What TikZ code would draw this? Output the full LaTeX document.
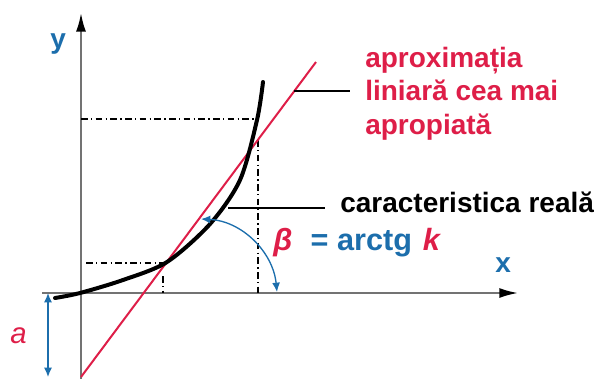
\documentclass[tikz,border=0pt]{standalone}
\usepackage{fontspec}
\setmainfont{Liberation Sans}
\usetikzlibrary{arrows.meta}
\definecolor{labred}{RGB}{222,30,72}
\definecolor{labblue}{RGB}{28,110,172}
\definecolor{axisgray}{RGB}{115,115,115}
\tikzset{
  axisline/.style={axisgray,line width=1.5pt,-{Latex[color=black,length=14pt,width=7.5pt]}},
  helpline/.style={black,line width=1pt,dash pattern={on 5pt off 2.5pt on 1pt off 2.5pt}},
  leader/.style={black,line width=1pt},
  bluearrow/.style={labblue,line width=1pt,{Latex[length=7pt,width=6pt]}-{Latex[length=7pt,width=6pt]}},
  lbl/.style={font=\fontsize{21}{25}\selectfont\bfseries,inner sep=0pt,anchor=base west}
}
\begin{document}
\begin{tikzpicture}[x=0.75pt,y=-0.75pt]
\useasboundingbox (0,0) rectangle (596,379);
% axes
\draw[axisline] (81,379) -- (81,13);
\draw[axisline] (42,293) -- (518,293);
\node[lbl,text=labblue] (ylab) at (50,48) {y};
\node[lbl,text=labblue] (xlab) at (495,272) {x};
% offset a
\draw[bluearrow] (48,293) -- (48,377);
\node[lbl,text=labred,font=\fontsize{22}{26}\selectfont\itshape] (alab) at (10,343) {a};
% help lines
\draw[helpline] (81,119) -- (256,119);
\draw[helpline] (258,140) -- (258,293);
\draw[helpline] (86,263) -- (164,263);
\draw[helpline] (163,276) -- (163,293);
% linear approximation
\draw[labred,line width=1.5pt] (81,377) -- (316,62);
% real characteristic
\draw[black,line width=3pt,line cap=round] plot[smooth,tension=0.5] coordinates
  {(55,298) (80,293) (123,280) (167,262) (210,224) (240,180) (257,120) (263,82)};
% angle beta
\draw[bluearrow] (201,219) .. controls (242,221) and (273,252) .. (277,292);
% labels and leaders
\coordinate (lin) at (294,91);
\coordinate (car) at (228,208);
\node[lbl,text=labred,align=left,anchor=north west] (aprox) at (365,47)
  {aproximația\\liniară cea mai\\apropiată};
\node[lbl] (real) at (340,212) {caracteristica reală};
\draw[leader] (lin) -- ++(56,0);
\draw[leader] (car) -- ++(97,0);
\node[lbl,text=labblue,font=\fontsize{23}{27}\selectfont\bfseries] (beta) at (273,250)
  {\textcolor{labred}{\itshape β}\hspace{0.6em}= arctg\hspace{0.35em}\textcolor{labred}{\itshape k}};
\end{tikzpicture}
\end{document}
